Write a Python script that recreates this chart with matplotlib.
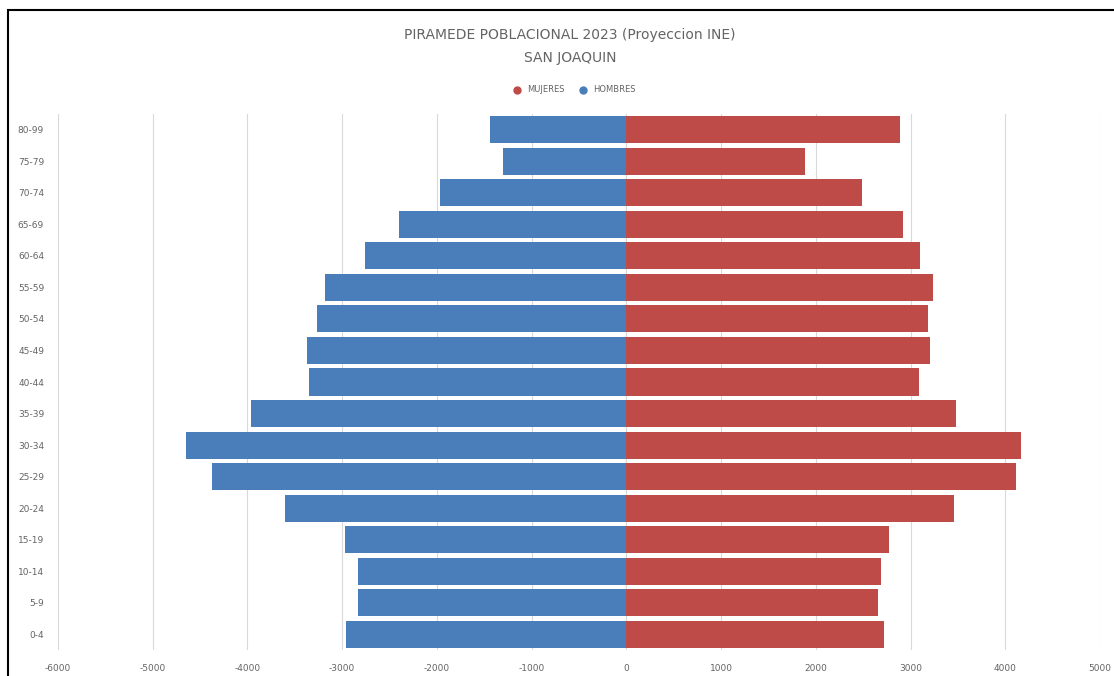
import matplotlib
matplotlib.use("Agg")
import matplotlib.pyplot as plt
from matplotlib.patches import Rectangle
from matplotlib.lines import Line2D
import numpy as np

# Age groups, bottom to top
grupos = ["0-4", "5-9", "10-14", "15-19", "20-24", "25-29", "30-34", "35-39",
          "40-44", "45-49", "50-54", "55-59", "60-64", "65-69", "70-74",
          "75-79", "80-99"]
hombres = [2958, 2832, 2832, 2968, 3600, 4379, 4653, 3958,
           3347, 3368, 3263, 3179, 2758, 2400, 1968, 1305, 1442]
mujeres = [2716, 2653, 2684, 2768, 3463, 4116, 4168, 3484,
           3084, 3210, 3189, 3232, 3095, 2916, 2484, 1884, 2884]
ticks = [-6000, -5000, -4000, -3000, -2000, -1000, 0, 1000, 2000, 3000, 4000, 5000]

azul = "#4a7ebb"
rojo = "#be4b48"
gris = "#646464"

fig = plt.figure(figsize=(11.14, 6.76), dpi=100)
ax = fig.add_axes([58 / 1114, 1 - 650 / 676, (1100 - 58) / 1114, (650 - 114) / 676])

y = np.arange(len(grupos))
ax.barh(y, [-h for h in hombres], height=0.86, color=azul, zorder=3)
ax.barh(y, mujeres, height=0.86, color=rojo, zorder=3)

ax.set_xlim(-6000, 5000)
ax.set_ylim(-0.5, len(grupos) - 0.5)
ax.set_xticks(ticks)
ax.set_xticklabels([str(t) for t in ticks], fontsize=6.5, color=gris)
ax.set_yticks(y)
ax.set_yticklabels(grupos, fontsize=6.5, color=gris)
ax.tick_params(length=0, pad=10)
ax.tick_params(axis="x", pad=10)
ax.grid(axis="x", color="#d9d9d9", linewidth=0.8, zorder=0)
for s in ax.spines.values():
    s.set_visible(False)

# Title and legend
fig.text(570 / 1114, 1 - 35 / 676, "PIRAMEDE POBLACIONAL 2023 (Proyeccion INE)",
         ha="center", va="center", fontsize=10, color=gris)
fig.text(570 / 1114, 1 - 58 / 676, "SAN JOAQUIN",
         ha="center", va="center", fontsize=10, color=gris)
handles = [Line2D([], [], marker="o", linestyle="", color=rojo, markersize=5),
           Line2D([], [], marker="o", linestyle="", color=azul, markersize=5)]
fig.legend(handles, ["MUJERES", "HOMBRES"], loc="center",
           bbox_to_anchor=(572 / 1114, 1 - 90 / 676), ncol=2, frameon=False,
           fontsize=6, labelcolor=gris, handletextpad=0.2, columnspacing=1.2)

# Outer frame
fig.patches.append(Rectangle((8 / 1114, -0.05), 1.1, 1 - 10 / 676 + 0.05,
                             transform=fig.transFigure, fill=False,
                             edgecolor="black", linewidth=1.5))

fig.savefig("out.png", dpi=100)
